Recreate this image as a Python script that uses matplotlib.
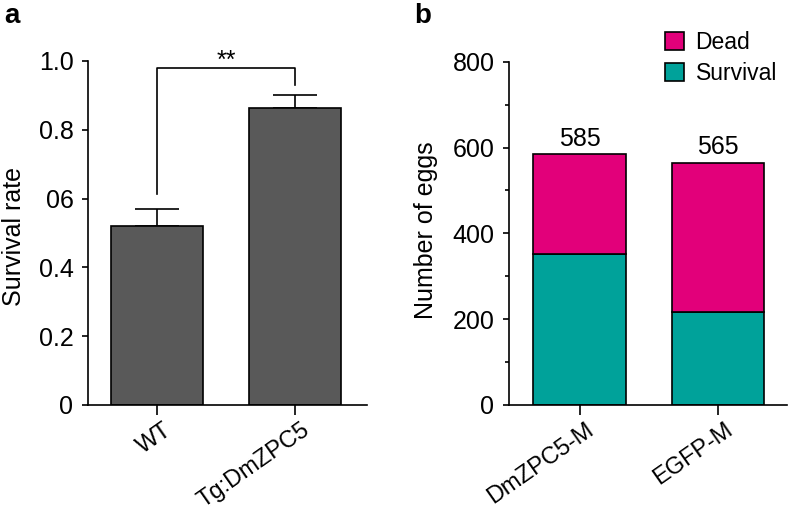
import matplotlib
matplotlib.use("Agg")
import matplotlib.pyplot as plt
import matplotlib.transforms as mtransforms
from matplotlib.patches import Patch

plt.rcParams['font.family'] = ['Liberation Sans', 'DejaVu Sans']

# Panel a data
groups_a = ["WT", "Tg:DmZPC5"]
survival_rate = [0.52, 0.862]
survival_err = [0.05, 0.038]
yticks_a = [0, 0.2, 0.4, 0.6, 0.8, 1.0]
yticklabels_a = ["0", "0.2", "0.4", "06", "0.8", "1.0"]
bracket_y = 0.98
bracket_left_bottom = 0.612
bracket_right_bottom = 0.93
sig_label = "**"

# Panel b data
groups_b = ["DmZPC5-M", "EGFP-M"]
survival_eggs = [352, 216]
total_eggs = [585, 565]
dead_eggs = [t - s for t, s in zip(total_eggs, survival_eggs)]
yticks_b = [0, 200, 400, 600, 800]

gray = "#595959"
magenta = "#E2007A"
teal = "#00A29A"
lw = 1.2
fs = 18

fig = plt.figure(figsize=(7.88, 5.13), dpi=100)

def style(ax):
    for s in ["top", "right"]:
        ax.spines[s].set_visible(False)
    for s in ["left", "bottom"]:
        ax.spines[s].set_linewidth(lw)
    ax.tick_params(axis="y", length=4.5, width=lw, labelsize=fs, pad=6)
    ax.tick_params(axis="x", length=7, width=lw, labelsize=17, pad=3)
    offset = mtransforms.ScaledTranslation(6/100, 0, fig.dpi_scale_trans)
    for lab in ax.get_xticklabels():
        lab.set_transform(lab.get_transform() + offset)

# Panel a
axa = fig.add_axes([88/788, 1-405/513, (367-88)/788, (405-61)/513])
xa = list(range(len(groups_a)))
axa.bar(xa, survival_rate, width=0.667, color=gray, edgecolor="black", linewidth=lw, zorder=2)
axa.errorbar(xa, survival_rate, yerr=[[0, 0], survival_err], fmt="none", ecolor="black",
             elinewidth=lw, capsize=16, capthick=lw, zorder=1)
axa.set_xlim(-0.5, 1.52)
axa.set_ylim(0, 1.0)
axa.set_yticks(yticks_a)
axa.set_yticklabels(yticklabels_a)
axa.set_xticks(xa)
axa.set_xticklabels(groups_a, rotation=35, ha="right", va="top", rotation_mode="anchor")
axa.set_ylabel("Survival rate", fontsize=fs)
axa.yaxis.set_label_coords(-0.222, 0.49)
style(axa)
axa.plot([xa[0], xa[0], xa[1], xa[1]],
         [bracket_left_bottom, bracket_y, bracket_y, bracket_right_bottom],
         color="black", lw=lw, clip_on=False)
axa.text((xa[0] + xa[1]) / 2, bracket_y - 0.015, sig_label, ha="center", va="bottom",
         fontsize=fs, clip_on=False)
fig.text(4/788, 1-16/513, "a", fontsize=20, fontweight="bold", va="center", ha="left")

# Panel b
axb = fig.add_axes([509/788, 1-405/513, (787-509)/788, (405-61.7)/513])
xb = list(range(len(groups_b)))
axb.bar(xb, survival_eggs, width=0.667, color=teal, edgecolor="black", linewidth=lw,
        label="Survival", zorder=2)
axb.bar(xb, dead_eggs, bottom=survival_eggs, width=0.667, color=magenta, edgecolor="black",
        linewidth=lw, label="Dead", zorder=2)
for x, t in zip(xb, total_eggs):
    axb.text(x, t + 8, str(t), ha="center", va="bottom", fontsize=fs)
axb.set_xlim(-0.51, 1.5)
axb.set_ylim(0, 800)
axb.set_yticks(yticks_b)
axb.set_yticks(range(100, 800, 200), minor=True)
axb.tick_params(axis="y", which="minor", length=3, width=lw)
axb.set_xticks(xb)
axb.set_xticklabels(groups_b, rotation=35, ha="right", va="top", rotation_mode="anchor")
axb.set_ylabel("Number of eggs", fontsize=fs)
axb.yaxis.set_label_coords(-0.255, 0.51)
style(axb)
handles = [Patch(facecolor=magenta, edgecolor="black", linewidth=lw, label="Dead"),
           Patch(facecolor=teal, edgecolor="black", linewidth=lw, label="Survival")]
axb.legend(handles=handles, loc="upper left", bbox_to_anchor=(0.56, 1.09), frameon=False,
           fontsize=16.5, handlelength=0.85, handleheight=0.85, handletextpad=0.5,
           labelspacing=0.35, borderaxespad=0, borderpad=0)
fig.text(414/788, 1-16/513, "b", fontsize=20, fontweight="bold", va="center", ha="left")

fig.savefig("out.png", dpi=100)
